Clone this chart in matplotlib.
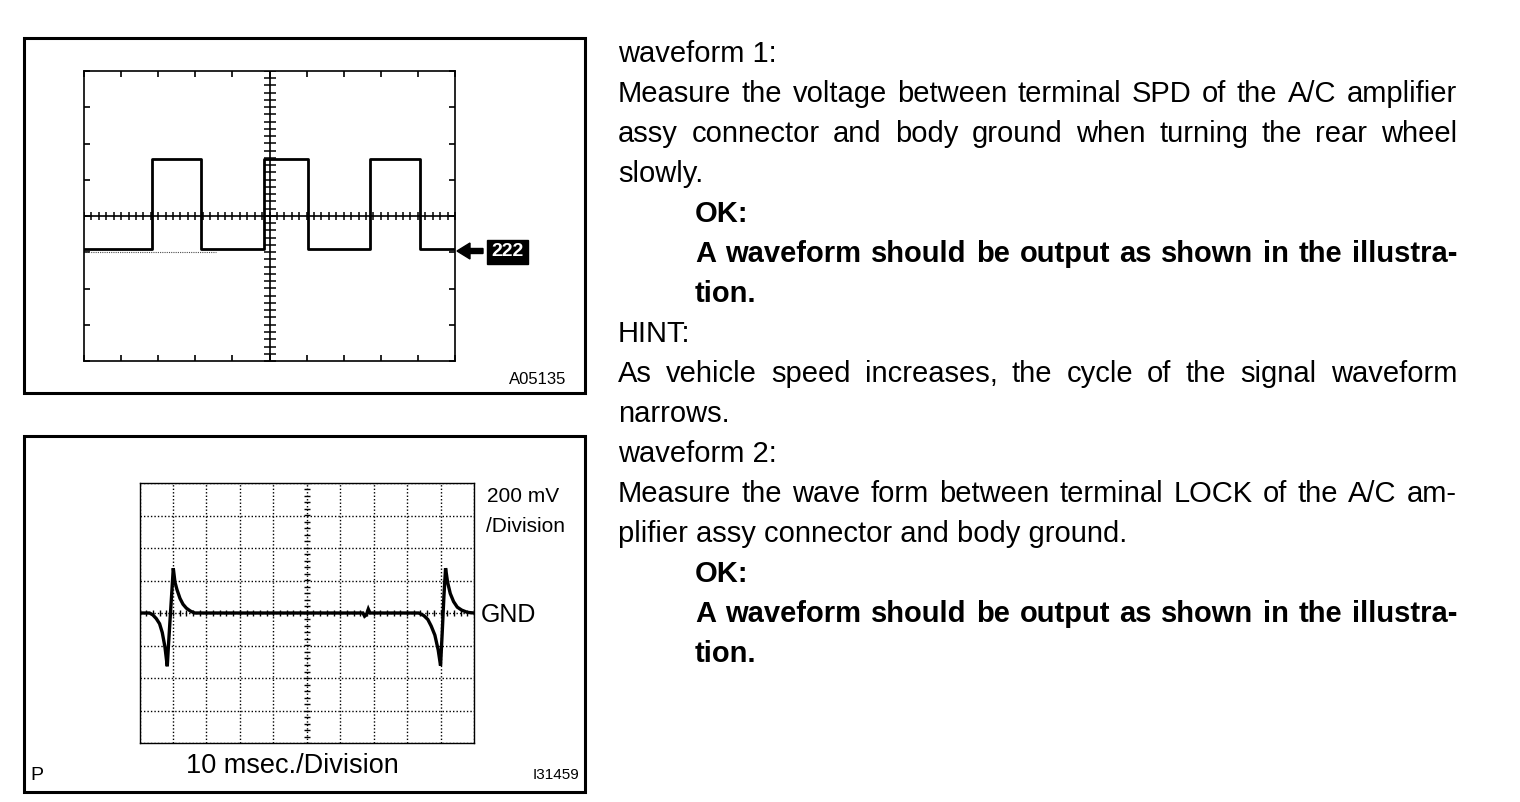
import numpy as np
import matplotlib.pyplot as plt
from matplotlib.patches import Rectangle, FancyArrow

plt.rcParams['font.family'] = ['Liberation Sans', 'DejaVu Sans']

# waveform 1 (SPD): square wave, divisions (x 0..10, y -4..4)
spd_edges = [0.0, 1.84, 3.15, 4.85, 6.03, 7.72, 9.07, 10.0]
spd_levels = [-0.9, 1.58, -0.9, 1.58, -0.9, 1.58, -0.9, -0.9]

# waveform 2 (LOCK): spikes around GND, divisions
lock_t = [0.0, 0.3, 0.4, 0.5, 0.6, 0.68, 0.76, 0.83, 0.86, 0.92, 0.97, 1.01, 1.06, 1.12,
          1.21, 1.3, 1.4, 1.52, 1.65,
          6.68, 6.73, 6.78, 6.84, 6.89,
          8.35, 8.5, 8.62, 8.72, 8.83, 8.93, 9.0, 9.05, 9.1, 9.15, 9.21, 9.29, 9.39,
          9.5, 9.63, 9.8, 10.0]
lock_v = [0.0, 0.0, -0.06, -0.17, -0.33, -0.6, -1.04, -1.64, -1.1, -0.1, 0.71, 1.38, 0.95, 0.72,
          0.45, 0.27, 0.15, 0.06, 0.0,
          0.0, -0.1, -0.06, 0.12, 0.0,
          0.0, -0.08, -0.2, -0.4, -0.68, -1.14, -1.62, -0.6, 0.5, 1.38, 0.95, 0.6, 0.35,
          0.18, 0.09, 0.02, 0.0]

text_lines = [
    ("waveform 1:", False, False, False),
    ("Measure the voltage between terminal SPD of the A/C amplifier", False, False, True),
    ("assy connector and body ground when turning the rear wheel", False, False, True),
    ("slowly.", False, False, False),
    ("OK:", True, True, False),
    ("A waveform should be output as shown in the illustra-", True, True, True),
    ("tion.", True, True, False),
    ("HINT:", False, False, False),
    ("As vehicle speed increases, the cycle of the signal waveform", False, False, True),
    ("narrows.", False, False, False),
    ("waveform 2:", False, False, False),
    ("Measure the wave form between terminal LOCK of the A/C am-", False, False, True),
    ("plifier assy connector and body ground.", False, False, False),
    ("OK:", True, True, False),
    ("A waveform should be output as shown in the illustra-", True, True, True),
    ("tion.", True, True, False),
]

W, H = 1520, 802
fig = plt.figure(figsize=(W / 100, H / 100), dpi=100)
ax0 = fig.add_axes([0, 0, 1, 1])
ax0.set_xlim(0, W)
ax0.set_ylim(H, 0)
ax0.axis('off')


def px_axes(l, t, r, b):
    return fig.add_axes([l / W, 1 - b / H, (r - l) / W, (b - t) / H])


# panel frames
ax0.add_patch(Rectangle((24, 38), 561, 355, fill=False, lw=2.2, ec='black'))
ax0.add_patch(Rectangle((24, 436), 561, 356, fill=False, lw=2.2, ec='black'))

# ---- top scope ----
ax1 = px_axes(84, 71, 455, 361)
ax1.set_xlim(0, 10)
ax1.set_ylim(-4, 4)
ax1.set_xticks(np.arange(0, 11))
ax1.set_yticks(np.arange(-4, 5))
ax1.tick_params(direction='in', length=4, width=1.2, top=True, right=True,
                labelbottom=False, labelleft=False)
for s in ax1.spines.values():
    s.set_linewidth(1.2)
ax1.axhline(0, color='black', lw=1.2)
ax1.axvline(5, color='black', lw=1.2)
minor_x = np.arange(0, 10.01, 0.2)
minor_y = np.arange(-4, 4.01, 0.2)
ax1.plot(minor_x, np.zeros_like(minor_x), ls='none', marker='|', ms=6, mew=1.1, color='black')
ax1.plot(np.full_like(minor_y, 5), minor_y, ls='none', marker='_', ms=8, mew=1.1, color='black')
ax1.plot([0, 3.55], [-1.0, -1.0], ls=(0, (1, 1)), lw=0.8, color='0.3')
ax1.step(spd_edges, spd_levels, where='post', color='black', lw=2)

ax0.add_patch(FancyArrow(483, 251, -26, 0, width=5, head_width=16, head_length=13,
                         length_includes_head=True, color='black'))
ax0.text(507.5, 252, "222", ha='center', va='center', color='white', fontsize=14,
         fontweight='bold',
         bbox=dict(boxstyle='square,pad=0.2', fc='black', ec='black'))
ax0.text(566, 380, "A05135", ha='right', va='center', fontsize=12)

# ---- bottom scope ----
ax2 = px_axes(139.5, 483, 474, 743)
ax2.set_xlim(0, 10)
ax2.set_ylim(-4, 4)
ax2.set_xticks(np.arange(0, 11))
ax2.set_yticks(np.arange(-4, 5))
ax2.tick_params(length=0, labelbottom=False, labelleft=False)
ax2.grid(True, color='black', lw=1.0, ls=(0, (1, 1.5)))
for s in ax2.spines.values():
    s.set_linewidth(1.0)
ax2.plot(np.full_like(minor_y, 5), minor_y, ls='none', marker='_', ms=5, mew=1, color='black')
ax2.plot(minor_x, np.zeros_like(minor_x), ls='none', marker='|', ms=5, mew=1, color='black')
ax2.plot(lock_t, lock_v, color='black', lw=2.4, solid_joinstyle='miter')

ax0.text(487, 497, "200 mV", ha='left', va='center', fontsize=15)
ax0.text(486, 527, "/Division", ha='left', va='center', fontsize=15)
ax0.text(481, 615, "GND", ha='left', va='center', fontsize=18)
ax0.text(292, 766, "10 msec./Division", ha='center', va='center', fontsize=19.5)
ax0.text(30, 775, "P", ha='left', va='center', fontsize=14)
ax0.text(579, 775, "I31459", ha='right', va='center', fontsize=11)

# ---- right-hand text ----
renderer = fig.canvas.get_renderer()
FS = 21
for i, (line, bold, indent, justify) in enumerate(text_lines):
    x0 = 695 if indent else 618
    y = 61.5 + 40 * i
    weight = 'bold' if bold else 'normal'
    if not justify:
        ax0.text(x0, y, line, fontsize=FS, fontweight=weight, va='baseline', ha='left')
        continue
    words = line.split(' ')
    arts = [ax0.text(0, y, w, fontsize=FS, fontweight=weight, va='baseline', ha='left')
            for w in words]
    widths = [a.get_window_extent(renderer).width for a in arts]
    gap = (1457 - x0 - sum(widths)) / (len(words) - 1)
    x = x0
    for a, w in zip(arts, widths):
        a.set_x(x)
        x += w + gap

fig.savefig("out.png", dpi=100, facecolor='white')
